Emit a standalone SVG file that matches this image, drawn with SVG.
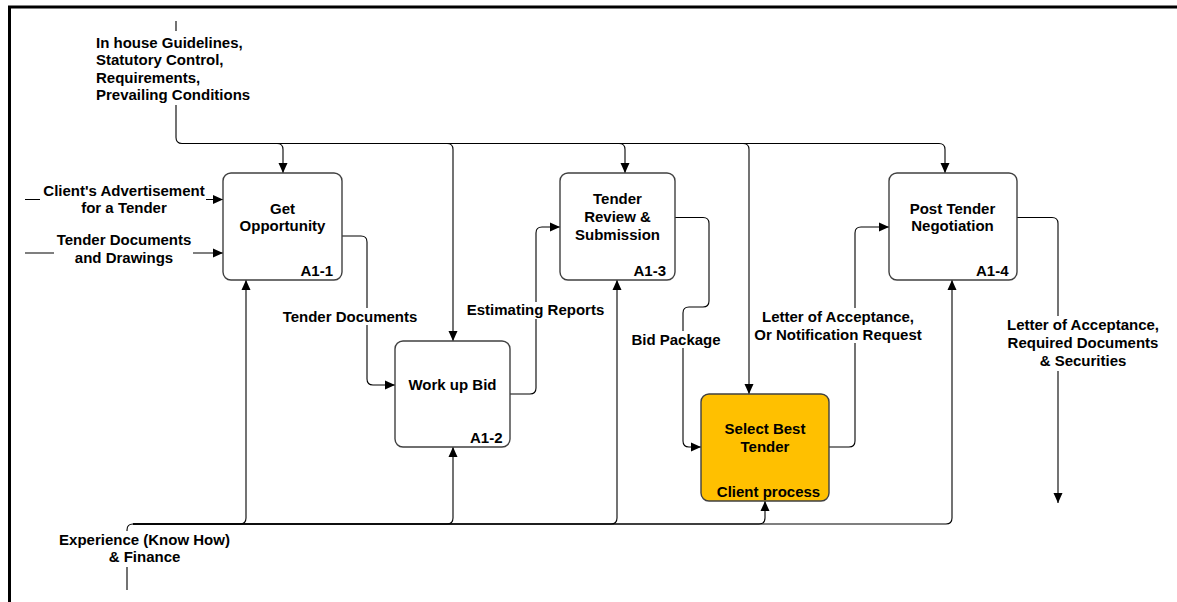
<svg xmlns="http://www.w3.org/2000/svg" width="1177" height="602" viewBox="0 0 1177 602">
<defs>
<style>
text{font-family:"Liberation Sans",Arial,sans-serif;font-size:15px;font-weight:bold;fill:#000}
.c{text-anchor:middle}
.r{text-anchor:end}
.box{fill:#fff;stroke:#404040;stroke-width:1.4}
.hl{fill:#FFC000}
.ln{fill:none;stroke:#000;stroke-width:1.1}
.mask{fill:#fff;stroke:none}
</style>
<marker id="ah" markerUnits="userSpaceOnUse" markerWidth="10" markerHeight="10" refX="10" refY="4.5" orient="auto" viewBox="0 0 10 9">
<path d="M0,0 L10,4.5 L0,9 z" fill="#000"/>
</marker>
</defs>
<rect width="1177" height="602" fill="#fff"/>
<path d="M9.5,602 V7 H1177" fill="none" stroke="#000" stroke-width="3"/>

<g id="connectors">
<!-- controls -->
<path class="ln" d="M176,21 V137.5 Q176,143.5 182,143.5 H277 Q283,143.5 283,149.5 V173" marker-end="url(#ah)"/>
<path class="ln" d="M182,143.5 H447 Q453,143.5 453,149.5 V341" marker-end="url(#ah)"/>
<path class="ln" d="M182,143.5 H619 Q625,143.5 625,149.5 V173" marker-end="url(#ah)"/>
<path class="ln" d="M182,143.5 H743 Q749,143.5 749,149.5 V394" marker-end="url(#ah)"/>
<path class="ln" d="M182,143.5 H939 Q945,143.5 945,149.5 V173" marker-end="url(#ah)"/>
<!-- inputs -->
<path class="ln" d="M25,199.5 H223" marker-end="url(#ah)"/>
<path class="ln" d="M25,253 H223" marker-end="url(#ah)"/>
<!-- mechanisms -->
<path class="ln" d="M127,590 V530 Q127,524 133,524 H240 Q246,524 246,518 V280" marker-end="url(#ah)"/>
<path class="ln" d="M133,524 H447 Q453,524 453,518 V447" marker-end="url(#ah)"/>
<path class="ln" d="M133,524 H611 Q617,524 617,518 V280" marker-end="url(#ah)"/>
<path class="ln" d="M133,524 H759 Q765,524 765,518 V501" marker-end="url(#ah)"/>
<path class="ln" d="M133,524 H946 Q952,524 952,518 V280" marker-end="url(#ah)"/>
<!-- flows -->
<path class="ln" d="M342,236 H361 Q367,236 367,242 V379 Q367,385 373,385 H395" marker-end="url(#ah)"/>
<path class="ln" d="M510,394 H530 Q536,394 536,388 V233 Q536,227 542,227 H560" marker-end="url(#ah)"/>
<path class="ln" d="M675,217.5 H703 Q709,217.5 709,223.5 V301 Q709,307 703,307 H689 Q683,307 683,313 V441 Q683,447 689,447 H701" marker-end="url(#ah)"/>
<path class="ln" d="M829,447 H849 Q855,447 855,441 V233 Q855,227 861,227 H889" marker-end="url(#ah)"/>
<path class="ln" d="M1017,217.5 H1052 Q1058,217.5 1058,223.5 V503" marker-end="url(#ah)"/>
</g>

<g id="labels">
<rect class="mask" x="93" y="31" width="162" height="74"/>
<text x="96" y="47.5">In house Guidelines,</text>
<text x="96" y="65">Statutory Control,</text>
<text x="96" y="82.5">Requirements,</text>
<text x="96" y="100">Prevailing Conditions</text>

<rect class="mask" x="40" y="183" width="166" height="33"/>
<text class="c" x="124" y="196">Client's Advertisement</text>
<text class="c" x="124" y="212.5">for a Tender</text>

<rect class="mask" x="54" y="232" width="139" height="35"/>
<text class="c" x="124" y="245">Tender Documents</text>
<text class="c" x="124" y="263">and Drawings</text>

<rect class="mask" x="57" y="531" width="176" height="36"/>
<text class="c" x="144.5" y="544.5">Experience (Know How)</text>
<text class="c" x="144.5" y="562">&amp; Finance</text>

<rect class="mask" x="280" y="308" width="140" height="17"/>
<text class="c" x="350" y="322">Tender Documents</text>

<rect class="mask" x="465" y="302" width="142" height="17"/>
<text class="c" x="535.5" y="315">Estimating Reports</text>

<rect class="mask" x="629" y="331" width="94" height="17"/>
<text class="c" x="676" y="344.5">Bid Package</text>

<rect class="mask" x="752" y="308" width="172" height="35"/>
<text class="c" x="838" y="321.5">Letter of Acceptance,</text>
<text class="c" x="838" y="339.5">Or Notification Request</text>

<rect class="mask" x="1004" y="316" width="158" height="55"/>
<text class="c" x="1083" y="330">Letter of Acceptance,</text>
<text class="c" x="1083" y="348">Required Documents</text>
<text class="c" x="1083" y="366">&amp; Securities</text>
</g>

<g id="A1-1">
<rect class="box" x="223" y="173" width="119" height="107" rx="8"/>
<text class="c" x="282.5" y="213.5">Get</text>
<text class="c" x="282.5" y="231">Opportunity</text>
<text class="r" x="333" y="276">A1-1</text>
</g>

<g id="A1-2">
<rect class="box" x="395" y="341" width="115" height="106" rx="8"/>
<text class="c" x="452.5" y="390">Work up Bid</text>
<text class="r" x="502.5" y="442.5">A1-2</text>
</g>

<g id="A1-3">
<rect class="box" x="560" y="173" width="115" height="107" rx="8"/>
<text class="c" x="617.5" y="204">Tender</text>
<text class="c" x="617.5" y="222">Review &amp;</text>
<text class="c" x="617.5" y="240">Submission</text>
<text class="r" x="666" y="276">A1-3</text>
</g>

<g id="select-best-tender">
<rect class="box hl" x="701" y="394" width="128" height="107" rx="8"/>
<text class="c" x="765" y="433.5">Select Best</text>
<text class="c" x="765" y="451.5">Tender</text>
<text class="c" x="768.5" y="496.5">Client process</text>
</g>

<g id="A1-4">
<rect class="box" x="889" y="173" width="128" height="107" rx="8"/>
<text class="c" x="952.5" y="213.5">Post Tender</text>
<text class="c" x="952.5" y="231">Negotiation</text>
<text class="r" x="1008.5" y="276">A1-4</text>
</g>
</svg>
